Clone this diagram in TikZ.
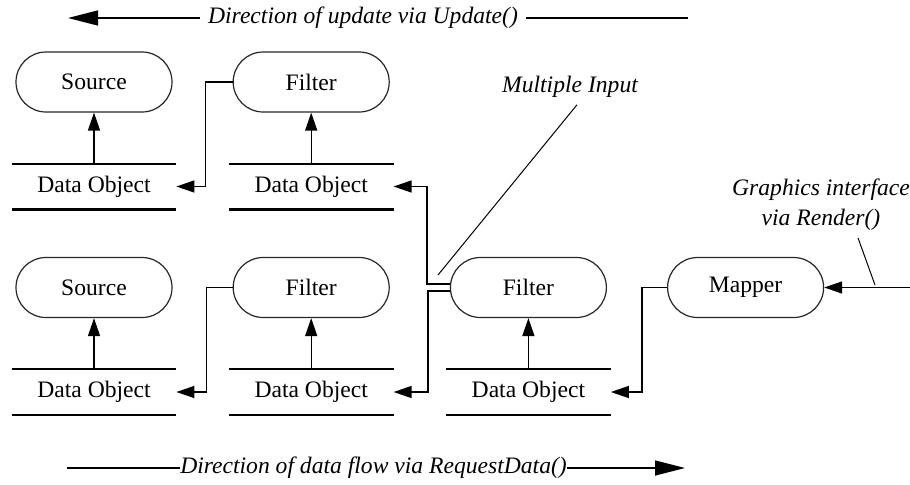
\documentclass[tikz,border=0pt]{standalone}
\usepackage{fontspec}
\setmainfont{Liberation Serif}
\usetikzlibrary{arrows.meta, positioning}
\newcommand{\diafont}{\fontsize{11.8pt}{15pt}\selectfont}
\tikzset{
  proc/.style={rectangle, draw=black!85, line width=0.6pt, rounded corners=15pt,
               minimum width=78pt, minimum height=30pt, inner sep=0pt},
  dobj/.style={rectangle, minimum width=82pt, minimum height=22.5pt, inner sep=0pt},
  dline/.style={line width=1.1pt},
  arrow/.style={-{Triangle[length=9pt, width=6pt]}, line width=0.7pt},
  bigarrow/.style={-{Triangle[length=15pt, width=7.5pt]}, line width=0.7pt},
  note/.style={font=\diafont\itshape},
  pointer/.style={line width=0.5pt},
}
\begin{document}
\begin{tikzpicture}[x=1pt, y=1pt, node distance=25.5pt and 30pt, font=\diafont]
\useasboundingbox (0,0) rectangle (455,242);

% ── upper pipeline ──────────────────────────────────────────────
\node[proc] (src1) at (47,201) {Source};
\node[proc, right=of src1] (flt1) {Filter};
\node[dobj, below=of src1] (dob1) {Data Object};
\node[dobj, below=of flt1] (dob2) {Data Object};

% ── lower pipeline ──────────────────────────────────────────────
\node[proc] (src2) at (47,98.25) {Source};
\node[proc, right=of src2] (flt2) {Filter};
\node[proc, right=of flt2] (flt3) {Filter};
\node[proc, right=of flt3] (map) {Mapper};
\node[dobj, below=of src2] (dob3) {Data Object};
\node[dobj, below=of flt2] (dob4) {Data Object};
\node[dobj, below=of flt3] (dob5) {Data Object};

% data object rules
\foreach \d in {dob1, dob2, dob3, dob4, dob5} {
  \draw[dline] (\d.north west) -- (\d.north east);
  \draw[dline] (\d.south west) -- (\d.south east);
}

% data object -> process
\foreach \d/\p in {dob1/src1, dob2/flt1, dob3/src2, dob4/flt2, dob5/flt3}
  \draw[arrow] (\d.north) -- (\p.south);

% process -> upstream data object
\draw[arrow] (flt1.west) -- ++(-13.5,0) |- (dob1.east);
\draw[arrow] (flt2.west) -- ++(-13,0) |- (dob3.east);
\draw[arrow] ([yshift=1.75pt]flt3.west) -- ++(-11.5,0) |- (dob2.east);
\draw[arrow] ([yshift=-1.75pt]flt3.west) -- ++(-11,0) |- (dob4.east);
\draw[arrow] (map.west) -- ++(-12.5,0) |- (dob5.east);

% ── annotations ─────────────────────────────────────────────────
\node[note] (multi) at (285,198.5) {Multiple Input};
\coordinate (mtip) at (219,104.5);
\draw[pointer] ([xshift=3.5pt]multi.south) -- (mtip);

\node[note, align=center] (gfx) at (410.5,139.5) {Graphics interface\\via Render()};
\coordinate (gin) at (455,98.25);
\coordinate (gtip) at (437.5,99.5);
\draw[arrow] (gin) -- (map.east);
\draw[pointer] ([xshift=18.5pt]gfx.south) -- (gtip);

% ── direction arrows ────────────────────────────────────────────
\node[note, inner sep=4pt] (upd) at (181.5,233) {Direction of update via Update()};
\coordinate (updL) at (34,233);
\coordinate (updR) at (344,233);
\draw[line width=0.7pt] (upd.east) -- (updR);
\draw[bigarrow] (upd.west) -- (updL);

\node[note, inner sep=0pt] (req) at (186.75,8) {Direction of data flow via RequestData()};
\coordinate (reqL) at (33.5,8);
\coordinate (reqR) at (342.5,8);
\draw[line width=0.7pt] (reqL) -- (req.west);
\draw[bigarrow] (req.east) -- (reqR);

\end{tikzpicture}
\end{document}
